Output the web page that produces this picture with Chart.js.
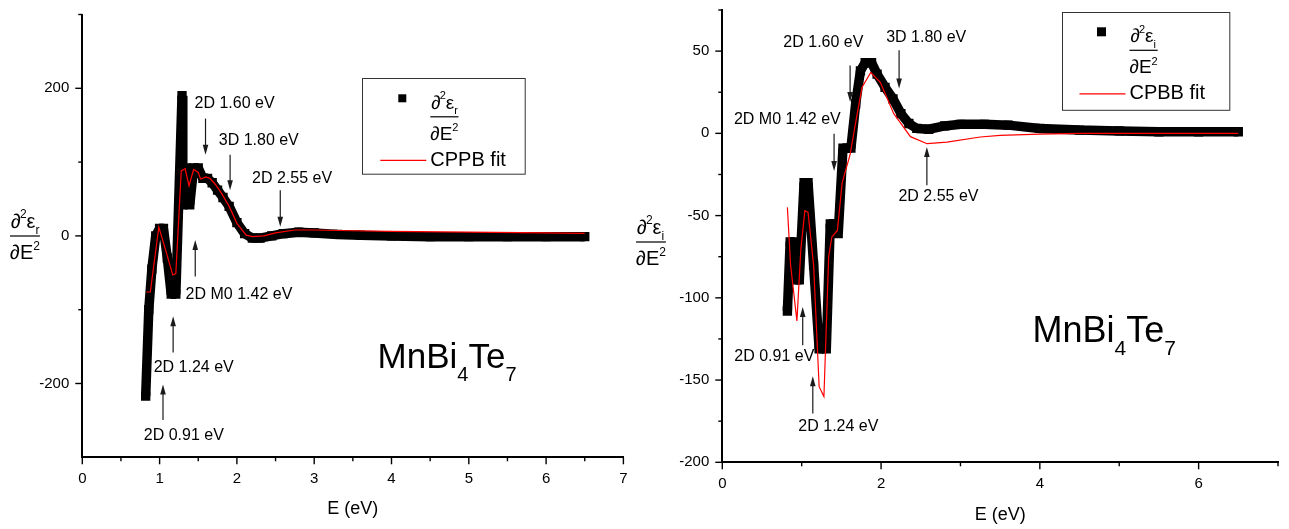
<!DOCTYPE html>
<html>
<head>
<meta charset="utf-8">
<title>MnBi4Te7 second-derivative spectra</title>
<script src="https://cdn.jsdelivr.net/npm/chart.js@4/dist/chart.umd.min.js"></script>
<style>
  html, body { margin: 0; padding: 0; background: #fff; }
  #wrap { position: relative; width: 1289px; height: 529px; overflow: hidden; background: #fff; }
  #cReal { position: absolute; left: 0; top: 0; }
  #cImag { position: absolute; left: 630px; top: 0; }
</style>
</head>
<body>
<div id="wrap">
  <canvas id="cReal" width="630" height="529"></canvas>
  <canvas id="cImag" width="659" height="529"></canvas>
</div>
<script>
// ---- d2(eps_r)/dE2 : measured points and CPPB fit ----
const realE   = [0.82, 0.86, 0.90, 0.95, 1.00, 1.05, 1.10, 1.15, 1.21, 1.29, 1.30, 1.35, 1.39, 1.44, 1.50, 1.56, 1.62, 1.68, 1.75, 1.82, 1.90, 2.00, 2.10, 2.20, 2.30, 2.45, 2.60, 2.80, 3.00, 3.30, 3.60, 4.00, 4.50, 5.00, 5.50, 6.00, 6.50];
const realD2  = [-217, -100, -45, 0, 10, 10, -30, -79, -79, 190, 42, 92, 42, 92, 92, 78, 78, 72, 62, 52, 40, 18, 3, -3, -3, 0, 3, 5, 4, 2, 1, 0, -1, -1, -1, -1, -1];
const realFitE = [0.83, 0.88, 0.99, 1.08, 1.17, 1.21, 1.28, 1.33, 1.38, 1.44, 1.50, 1.53, 1.60, 1.65, 1.72, 1.80, 1.90, 2.00, 2.12, 2.20, 2.35, 2.50, 2.75, 3.00, 3.50, 4.00, 5.00, 6.00, 6.50];
const realFit  = [-76, -76, 12, -20, -53, -51, 88, 91, 68, 90, 86, 77, 80, 78, 70, 58, 40, 17, 1, -1, 0, 4, 8, 8, 7, 6, 5, 4, 3.5];

// ---- d2(eps_i)/dE2 : measured points and CPBB fit ----
const imagE   = [0.82, 0.855, 0.90, 0.935, 0.97, 1.03, 1.08, 1.15, 1.22, 1.31, 1.36, 1.40, 1.46, 1.52, 1.57, 1.62, 1.68, 1.74, 1.80, 1.88, 1.95, 2.05, 2.15, 2.25, 2.35, 2.45, 2.60, 2.80, 3.00, 3.30, 3.60, 4.00, 4.50, 5.00, 5.50, 6.00, 6.50];
const imagD2  = [-108, -66, -66, -89, -89, -30, -30, -80, -131, -131, -55, -55, -61, -9, -9, -9, 18, 38, 43, 43, 36, 28, 21, 12, 6, 3, 2.5, 4.5, 5.5, 5.5, 5, 3, 2, 1.5, 1, 1, 1];
const imagFitE = [0.82, 0.86, 0.94, 0.99, 1.04, 1.08, 1.15, 1.22, 1.28, 1.34, 1.38, 1.45, 1.51, 1.61, 1.67, 1.76, 1.87, 1.99, 2.16, 2.37, 2.58, 2.83, 3.25, 3.50, 4.00, 4.50, 5.00, 6.00, 6.50];
const imagFit  = [-45, -80, -114, -70, -47, -48, -80, -154, -160, -75, -63, -59, -30, -13, 4, 28, 37, 31, 12, -2, -6.3, -5.3, -2.2, -1.2, -0.5, 0, 0, 0, 0];

// ---- axis ticks ----
const realXTicks = [0, 1, 2, 3, 4, 5, 6, 7];
const realXMinor = [0.5, 1.5, 2.5, 3.5, 4.5, 5.5, 6.5];
const realYTicks = [-200, 0, 200];
const realYMinor = [-100, 100, 300];
const imagXTicks = [0, 2, 4, 6];
const imagXMinor = [1, 3, 5, 7];
const imagYTicks = [-200, -150, -100, -50, 0, 50];
const imagYMinor = [-175, -125, -75, -25, 25, 75];

// ---- transition labels ----
const realNoteText = ['2D 1.60 eV', '3D 1.80 eV', '2D 2.55 eV', '2D M0 1.42 eV', '2D 1.24 eV', '2D 0.91 eV'];
const imagNoteText = ['2D 1.60 eV', '3D 1.80 eV', '2D M0 1.42 eV', '2D 2.55 eV', '2D 0.91 eV', '2D 1.24 eV'];

const FONT = "'Liberation Sans', Arial, 'DejaVu Sans', sans-serif";

function pts(xs, ys) { return xs.map((x, i) => ({ x: x, y: ys[i] })); }

// d^2 eps / dE^2 written as a stacked fraction
function drawD2(ctx, x, barY, sub, fs) {
  const sm = Math.round(fs * 0.58);
  ctx.textAlign = 'left';
  ctx.textBaseline = 'alphabetic';
  ctx.fillStyle = '#000';
  const nb = barY - 8, db = barY + 23;
  let cx = x + 1;
  ctx.font = fs + 'px ' + FONT;
  ctx.fillText('\u2202', cx, nb); cx += ctx.measureText('\u2202').width;
  ctx.font = sm + 'px ' + FONT;
  ctx.fillText('2', cx - 1, nb - fs * 0.5); cx += ctx.measureText('2').width - 1;
  ctx.font = fs + 'px ' + FONT;
  ctx.fillText('\u03b5', cx, nb); cx += ctx.measureText('\u03b5').width;
  ctx.font = sm + 'px ' + FONT;
  ctx.fillText(sub, cx, nb + fs * 0.28); cx += ctx.measureText(sub).width;
  const numW = cx - x;
  let dx = x;
  ctx.font = fs + 'px ' + FONT;
  ctx.fillText('\u2202E', dx, db); dx += ctx.measureText('\u2202E').width;
  ctx.font = sm + 'px ' + FONT;
  ctx.fillText('2', dx, db - fs * 0.45); dx += ctx.measureText('2').width;
  const w = Math.max(numW, dx - x);
  ctx.fillRect(x, barY - 0.6, w, 1.2);
}

function drawArrow(ctx, x, yTail, yTip) {
  const dir = Math.sign(yTip - yTail);
  ctx.beginPath();
  ctx.moveTo(x, yTail);
  ctx.lineTo(x, yTip - dir * 8);
  ctx.stroke();
  ctx.beginPath();
  ctx.moveTo(x, yTip);
  ctx.lineTo(x - 2.8, yTip - dir * 10);
  ctx.lineTo(x + 2.8, yTip - dir * 10);
  ctx.closePath();
  ctx.fill();
}

const decor = {
  id: 'decor',
  afterDraw(chart, args, o) {
    const ctx = chart.ctx;
    const xs = chart.scales.x, ys = chart.scales.y;
    const ca = chart.chartArea;
    ctx.save();

    // tick marks (outward)
    ctx.strokeStyle = '#000';
    ctx.lineWidth = 1.4;
    const tx = (v, len) => { const p = xs.getPixelForValue(v); ctx.beginPath(); ctx.moveTo(p, ca.bottom); ctx.lineTo(p, ca.bottom + len); ctx.stroke(); };
    const ty = (v, len) => { const p = ys.getPixelForValue(v); ctx.beginPath(); ctx.moveTo(ca.left, p); ctx.lineTo(ca.left - len, p); ctx.stroke(); };
    xs.ticks.forEach(t => tx(t.value, 7));
    o.xMinor.forEach(v => tx(v, 4));
    ys.ticks.forEach(t => ty(t.value, 7));
    o.yMinor.forEach(v => ty(v, 4));

    // axis titles
    ctx.fillStyle = '#000';
    ctx.font = '18px ' + FONT;
    ctx.textAlign = 'center';
    ctx.textBaseline = 'middle';
    ctx.fillText('E (eV)', (ca.left + ca.right) / 2, o.xTitleY);
    drawD2(ctx, o.yTitleX, o.yTitleBar, o.sub, 20);

    // transition markers
    ctx.strokeStyle = '#1a1a1a';
    ctx.fillStyle = '#1a1a1a';
    ctx.lineWidth = 1.2;
    o.notes.forEach(n => {
      drawArrow(ctx, xs.getPixelForValue(n.e), ys.getPixelForValue(n.tail), ys.getPixelForValue(n.tip));
    });
    ctx.fillStyle = '#000';
    ctx.font = '16px ' + FONT;
    ctx.textAlign = 'left';
    ctx.textBaseline = 'middle';
    o.notes.forEach((n, i) => {
      ctx.fillText(o.noteText[i], xs.getPixelForValue(n.tx), ys.getPixelForValue(n.ty));
    });

    // compound name
    const cx0 = ca.left + o.name.dx, cy0 = ca.top + o.name.dy;
    const big = o.name.size + 'px ' + FONT, small = Math.round(o.name.size * 0.57) + 'px ' + FONT;
    ctx.textBaseline = 'alphabetic';
    let px = cx0;
    [['MnBi', 0], ['4', 1], ['Te', 0], ['7', 1]].forEach(([s, isSub]) => {
      ctx.font = isSub ? small : big;
      ctx.fillText(s, px, isSub ? cy0 + o.name.size * 0.36 : cy0);
      px += ctx.measureText(s).width;
    });

    // legend box
    const L = o.legend;
    const bx = ca.left + L.dx, by = ca.top + L.dy;
    ctx.strokeStyle = '#333';
    ctx.lineWidth = 1;
    ctx.strokeRect(Math.round(bx) + 0.5, Math.round(by) + 0.5, L.w, L.h);
    ctx.fillStyle = '#000';
    ctx.fillRect(bx + 40 - L.sq / 2, by + 20 - L.sq / 2, L.sq, L.sq);
    drawD2(ctx, bx + 68, by + 38.5, o.sub, 19);
    ctx.strokeStyle = '#ff0000';
    ctx.lineWidth = 1.2;
    ctx.beginPath(); ctx.moveTo(bx + 18, by + 82); ctx.lineTo(bx + 64, by + 82); ctx.stroke();
    ctx.fillStyle = '#000';
    ctx.font = '20px ' + FONT;
    ctx.textBaseline = 'middle';
    ctx.fillText(L.fitName, bx + 68, by + 82);

    ctx.restore();
  }
};

// the plot frame is placed by layout padding alone
function noEdgePadding(s) {
  s.paddingTop = 0; s.paddingBottom = 0; s.paddingLeft = 0; s.paddingRight = 0;
}

function makeChart(id, c) {
  return new Chart(document.getElementById(id), {
    type: 'line',
    data: {
      datasets: [
        { label: c.fitName, data: pts(c.fitE, c.fitV), borderColor: '#ff0000', borderWidth: 1.2,
          pointRadius: 0, tension: 0, order: 0 },
        { label: 'data', data: pts(c.dataE, c.dataV), borderColor: '#000', backgroundColor: '#000',
          borderWidth: 9.5, borderJoinStyle: 'bevel', borderCapStyle: 'butt', tension: 0,
          pointStyle: 'rect', pointRadius: 6.6, pointBackgroundColor: '#000', pointBorderWidth: 0, order: 1 }
      ]
    },
    options: {
      responsive: false,
      animation: false,
      devicePixelRatio: 1,
      layout: { padding: c.pad },
      plugins: {
        legend: { display: false },
        tooltip: { enabled: false },
        decor: c.decor
      },
      scales: {
        x: {
          type: 'linear', min: 0, max: 7,
          afterBuildTicks: s => { s.ticks = c.xTicks.map(v => ({ value: v })); },
          afterFit: s => { s.height = c.xh; noEdgePadding(s); },
          grid: { display: false, drawTicks: false },
          border: { display: true, color: '#000', width: 2 },
          ticks: { padding: 13, color: '#000', font: { family: FONT, size: 15 }, maxRotation: 0, autoSkip: false,
                   callback: v => String(v) }
        },
        y: {
          type: 'linear', min: c.ymin, max: c.ymax,
          afterBuildTicks: s => { s.ticks = c.yTicks.map(v => ({ value: v })); },
          afterFit: s => { s.width = c.yw; noEdgePadding(s); },
          grid: { display: false, drawTicks: false },
          border: { display: true, color: '#000', width: 2 },
          ticks: { padding: 13, color: '#000', font: { family: FONT, size: 15 }, autoSkip: false,
                   callback: v => String(v) }
        }
      }
    },
    plugins: [decor]
  });
}

makeChart('cReal', {
  dataE: realE, dataV: realD2, fitE: realFitE, fitV: realFit, fitName: 'CPPB fit',
  xTicks: realXTicks, yTicks: realYTicks, ymin: -300, ymax: 300,
  pad: { left: 0, right: 4.5, top: 14.5, bottom: 0 }, yw: 82.3, xh: 71.7,
  decor: {
    xMinor: realXMinor, yMinor: realYMinor, sub: 'r',
    xTitleY: 509, yTitleX: 10, yTitleBar: 236,
    noteText: realNoteText,
    notes: [
      { e: 1.594, tail: 159, tip: 110, tx: 1.452, ty: 179 },
      { e: 1.912, tail: 110, tip: 62, tx: 1.765, ty: 129 },
      { e: 2.561, tail: 62, tip: 12.5, tx: 2.196, ty: 77 },
      { e: 1.461, tail: -55, tip: -5.6, tx: 1.336, ty: -79 },
      { e: 1.175, tail: -158, tip: -109, tx: 0.924, ty: -178 },
      { e: 1.044, tail: -249.5, tip: -201.5, tx: 0.795, ty: -271 }
    ],
    name: { dx: 295.3, dy: 353.9, size: 35 },
    legend: { dx: 280, dy: 63.8, w: 162.7, h: 95.7, sq: 8, fitName: 'CPPB fit' }
  }
});

makeChart('cImag', {
  dataE: imagE, dataV: imagD2, fitE: imagFitE, fitV: imagFit, fitName: 'CPBB fit',
  xTicks: imagXTicks, yTicks: imagYTicks, ymin: -200, ymax: 75,
  pad: { left: 0, right: 11, top: 10, bottom: 0 }, yw: 92.3, xh: 66.7,
  decor: {
    xMinor: imagXMinor, yMinor: imagYMinor, sub: 'i',
    xTitleY: 515.5, yTitleX: 6, yTitleBar: 242,
    noteText: imagNoteText,
    notes: [
      { e: 1.61, tail: 41.3, tip: 19, tx: 0.769, ty: 55 },
      { e: 2.227, tail: 50.5, tip: 27.2, tx: 2.064, ty: 58.1 },
      { e: 1.408, tail: -0.2, tip: -22.9, tx: 0.147, ty: 8.5 },
      { e: 2.577, tail: -31.6, tip: -8.3, tx: 2.219, ty: -38.7 },
      { e: 1.013, tail: -128.9, tip: -105.6, tx: 0.151, ty: -135.6 },
      { e: 1.14, tail: -170.4, tip: -147.7, tx: 0.958, ty: -178.1 }
    ],
    name: { dx: 310.3, dy: 332.4, size: 36 },
    legend: { dx: 339.2, dy: 1.8, w: 167.3, h: 97.8, sq: 9, fitName: 'CPBB fit' }
  }
});
</script>
</body>
</html>
